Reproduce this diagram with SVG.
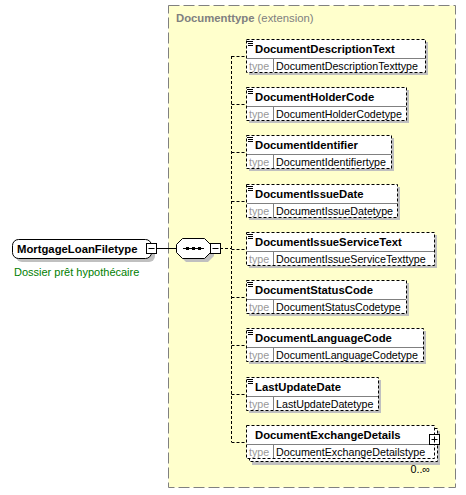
<svg xmlns="http://www.w3.org/2000/svg" width="466" height="495" viewBox="0 0 466 495">
<style>
.panel{fill:#FFFFCC;stroke:#808080;stroke-width:1;stroke-dasharray:11,4}
.shadow{fill:#C0C0C0;stroke:none}
.box{fill:#FFFFFF;stroke:#000000;stroke-width:1;stroke-dasharray:3,2}
.sep{stroke:#808080;stroke-width:1;fill:none}
.conn{stroke:#000000;stroke-width:1;fill:none;stroke-dasharray:3,2}
.solid{stroke:#000000;stroke-width:1;fill:none}
.name{font-family:"Liberation Sans",Arial,sans-serif;font-weight:bold;font-size:11.3px;fill:#000000}
.tlabel{font-family:"Liberation Sans",Arial,sans-serif;font-size:10.7px;fill:#999999}
.tval{font-family:"Liberation Sans",Arial,sans-serif;font-size:10.7px;fill:#000000}
.head{font-family:"Liberation Sans",Arial,sans-serif;font-size:11.3px;fill:#808080}
.doc{font-family:"Liberation Sans",Arial,sans-serif;font-size:11px;fill:#008000}
.occ{font-family:"Liberation Sans",Arial,sans-serif;font-size:10.7px;fill:#000000}
.icon{stroke:#000000;stroke-width:1}
.btn{fill:#FFFFFF;stroke:#000000;stroke-width:1}
</style>
<defs>
<g id="mnu">
<line class="icon" x1="0" y1="0.5" x2="6" y2="0.5"/>
<line class="icon" x1="1" y1="2.5" x2="6" y2="2.5"/>
<line class="icon" x1="1" y1="4.5" x2="6" y2="4.5"/>
</g>
</defs>

<g id="panel">
<rect class="panel" x="168.5" y="5.5" width="287" height="482"/>
<text class="head" x="176" y="22"><tspan font-weight="bold">Documenttype</tspan> (extension)</text>
</g>

<g id="connectors">
<line class="solid" x1="156" y1="248.5" x2="176" y2="248.5"/>
<line class="conn" x1="220" y1="248.5" x2="231.5" y2="248.5"/>
<line class="conn" x1="231.5" y1="56" x2="231.5" y2="442"/>
<line class="conn" x1="231.5" y1="56.5" x2="246" y2="56.5"/>
<line class="conn" x1="231.5" y1="104.5" x2="246" y2="104.5"/>
<line class="conn" x1="231.5" y1="152.5" x2="246" y2="152.5"/>
<line class="conn" x1="231.5" y1="201.5" x2="246" y2="201.5"/>
<line class="conn" x1="231.5" y1="249.5" x2="246" y2="249.5"/>
<line class="conn" x1="231.5" y1="297.5" x2="246" y2="297.5"/>
<line class="conn" x1="231.5" y1="345.5" x2="246" y2="345.5"/>
<line class="conn" x1="231.5" y1="394.5" x2="246" y2="394.5"/>
<line class="conn" x1="231.5" y1="442.5" x2="246" y2="442.5"/>
</g>

<g id="root">
<rect class="shadow" x="16" y="243" width="139" height="19" rx="6"/>
<rect x="12.5" y="239.5" width="139" height="19" rx="6" fill="#FFFFFF" stroke="#000000"/>
<text class="name" x="17" y="253">MortgageLoanFiletype</text>
<rect class="btn" x="146.5" y="243.5" width="10" height="10"/>
<line class="solid" x1="148.5" y1="248.5" x2="154.5" y2="248.5"/>
<text class="doc" x="14" y="276">Dossier prêt hypothécaire</text>
</g>

<g id="sequence">
<polygon class="shadow" points="186,242 208,242 214,248 214,256 208,262 186,262 180,256 180,248"/>
<polygon points="182.5,238.5 204.5,238.5 210.5,244.5 210.5,252.5 204.5,258.5 182.5,258.5 176.5,252.5 176.5,244.5" fill="#FFFFFF" stroke="#000000"/>
<line class="solid" x1="183" y1="248.5" x2="204" y2="248.5"/>
<rect x="186" y="247" width="3" height="3" fill="#000"/>
<rect x="192" y="247" width="3" height="3" fill="#000"/>
<rect x="198" y="247" width="3" height="3" fill="#000"/>
<rect class="btn" x="210.5" y="243.5" width="10" height="10"/>
<line class="solid" x1="212.5" y1="248.5" x2="218.5" y2="248.5"/>
</g>

<g id="el-DocumentDescriptionText">
<rect class="shadow" x="249" y="42" width="179" height="33"/>
<rect class="box" x="246.5" y="39.5" width="179" height="33"/>
<line class="sep" x1="247" y1="58.5" x2="425" y2="58.5"/>
<line class="sep" x1="273.5" y1="59" x2="273.5" y2="72"/>
<use href="#mnu" x="247" y="41"/>
<text class="name" x="255" y="52.5">DocumentDescriptionText</text>
<text class="tlabel" x="249" y="69.5">type</text>
<text class="tval" x="276" y="69.5">DocumentDescriptionTexttype</text>
</g>

<g id="el-DocumentHolderCode">
<rect class="shadow" x="249" y="90" width="160" height="33"/>
<rect class="box" x="246.5" y="87.5" width="160" height="33"/>
<line class="sep" x1="247" y1="106.5" x2="406" y2="106.5"/>
<line class="sep" x1="273.5" y1="107" x2="273.5" y2="120"/>
<use href="#mnu" x="247" y="89"/>
<text class="name" x="255" y="100.5">DocumentHolderCode</text>
<text class="tlabel" x="249" y="117.5">type</text>
<text class="tval" x="276" y="117.5">DocumentHolderCodetype</text>
</g>

<g id="el-DocumentIdentifier">
<rect class="shadow" x="249" y="138" width="145" height="33"/>
<rect class="box" x="246.5" y="135.5" width="145" height="33"/>
<line class="sep" x1="247" y1="154.5" x2="391" y2="154.5"/>
<line class="sep" x1="273.5" y1="155" x2="273.5" y2="168"/>
<use href="#mnu" x="247" y="137"/>
<text class="name" x="255" y="148.5">DocumentIdentifier</text>
<text class="tlabel" x="249" y="165.5">type</text>
<text class="tval" x="276" y="165.5">DocumentIdentifiertype</text>
</g>

<g id="el-DocumentIssueDate">
<rect class="shadow" x="249" y="187" width="151" height="33"/>
<rect class="box" x="246.5" y="184.5" width="151" height="33"/>
<line class="sep" x1="247" y1="203.5" x2="397" y2="203.5"/>
<line class="sep" x1="273.5" y1="204" x2="273.5" y2="217"/>
<use href="#mnu" x="247" y="186"/>
<text class="name" x="255" y="197.5">DocumentIssueDate</text>
<text class="tlabel" x="249" y="214.5">type</text>
<text class="tval" x="276" y="214.5">DocumentIssueDatetype</text>
</g>

<g id="el-DocumentIssueServiceText">
<rect class="shadow" x="249" y="235" width="188" height="33"/>
<rect class="box" x="246.5" y="232.5" width="188" height="33"/>
<line class="sep" x1="247" y1="251.5" x2="434" y2="251.5"/>
<line class="sep" x1="273.5" y1="252" x2="273.5" y2="265"/>
<use href="#mnu" x="247" y="234"/>
<text class="name" x="255" y="245.5">DocumentIssueServiceText</text>
<text class="tlabel" x="249" y="262.5">type</text>
<text class="tval" x="276" y="262.5">DocumentIssueServiceTexttype</text>
</g>

<g id="el-DocumentStatusCode">
<rect class="shadow" x="249" y="283" width="160" height="33"/>
<rect class="box" x="246.5" y="280.5" width="160" height="33"/>
<line class="sep" x1="247" y1="299.5" x2="406" y2="299.5"/>
<line class="sep" x1="273.5" y1="300" x2="273.5" y2="313"/>
<use href="#mnu" x="247" y="282"/>
<text class="name" x="255" y="293.5">DocumentStatusCode</text>
<text class="tlabel" x="249" y="310.5">type</text>
<text class="tval" x="276" y="310.5">DocumentStatusCodetype</text>
</g>

<g id="el-DocumentLanguageCode">
<rect class="shadow" x="249" y="331" width="177" height="33"/>
<rect class="box" x="246.5" y="328.5" width="177" height="33"/>
<line class="sep" x1="247" y1="347.5" x2="423" y2="347.5"/>
<line class="sep" x1="273.5" y1="348" x2="273.5" y2="361"/>
<use href="#mnu" x="247" y="330"/>
<text class="name" x="255" y="341.5">DocumentLanguageCode</text>
<text class="tlabel" x="249" y="358.5">type</text>
<text class="tval" x="276" y="358.5">DocumentLanguageCodetype</text>
</g>

<g id="el-LastUpdateDate">
<rect class="shadow" x="249" y="380" width="132" height="33"/>
<rect class="box" x="246.5" y="377.5" width="132" height="33"/>
<line class="sep" x1="247" y1="396.5" x2="378" y2="396.5"/>
<line class="sep" x1="273.5" y1="397" x2="273.5" y2="410"/>
<use href="#mnu" x="247" y="379"/>
<text class="name" x="255" y="390.5">LastUpdateDate</text>
<text class="tlabel" x="249" y="407.5">type</text>
<text class="tval" x="276" y="407.5">LastUpdateDatetype</text>
</g>

<g id="el-DocumentExchangeDetails">
<rect class="shadow" x="252" y="431" width="188" height="34"/>
<rect class="box" x="249.5" y="428.5" width="188" height="33"/>
<rect class="box" x="246.5" y="425.5" width="188" height="33"/>
<line class="sep" x1="247" y1="444.5" x2="434" y2="444.5"/>
<line class="sep" x1="273.5" y1="445" x2="273.5" y2="458"/>
<text class="name" x="255" y="438.5">DocumentExchangeDetails</text>
<text class="tlabel" x="249" y="455.5">type</text>
<text class="tval" x="276" y="455.5">DocumentExchangeDetailstype</text>
<rect class="btn" x="429.5" y="434.5" width="10" height="10"/>
<line class="solid" x1="431.5" y1="439.5" x2="437.5" y2="439.5"/>
<line class="solid" x1="434.5" y1="436.5" x2="434.5" y2="442.5"/>
<text class="occ" x="430" y="473" text-anchor="end">0..∞</text>
</g>
</svg>
